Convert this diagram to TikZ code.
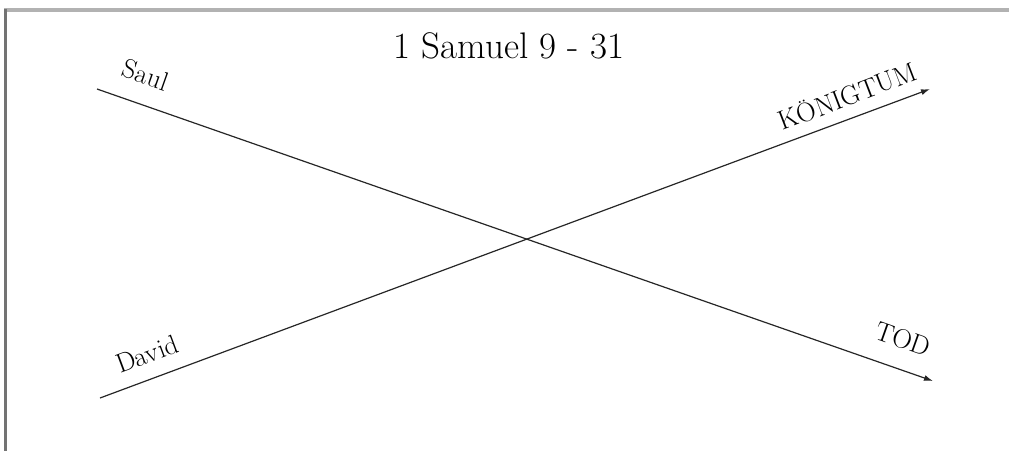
\documentclass[tikz,border=0pt]{standalone}
\usetikzlibrary{arrows.meta}
\begin{document}
\begin{tikzpicture}[x=1pt,y=-1pt,
  lifeline/.style={line width=1.2pt,draw=black!85},
  arrowline/.style={lifeline,-{Latex[length=9pt,width=6pt]}},
  tag/.style={inner sep=0pt,font=\fontsize{27}{32}\selectfont}]
  \useasboundingbox (0,0) rectangle (1009,451);
  % frame edges
  \draw[line width=3.5pt,draw=black!30] (4,10) -- (1009,10);
  \draw[line width=3pt,draw=black!55] (5.5,8.5) -- (5.5,451);
  % title
  \node[inner sep=0pt,font=\fontsize{37}{44}\selectfont] (title) at (509,46) {1 Samuel 9 - 31};
  % the two crossing courses
  \coordinate (saul0) at (97,89);
  \coordinate (tod) at (933,381);
  \coordinate (david0) at (100,398);
  \coordinate (koenig) at (930,89);
  \draw[arrowline] (saul0) -- (tod);
  \draw[arrowline] (david0) -- (koenig);
  % labels along the lines
  \node[tag,rotate=-19.5] (saul) at (146,75) {Saul};
  \node[tag,rotate=20.5] (david) at (147,354) {David};
  \node[tag,rotate=21] (koenigtum) at (847,95) {KÖNIGTUM};
  \node[tag,rotate=-19.5] (todlabel) at (903,339) {TOD};
\end{tikzpicture}
\end{document}
